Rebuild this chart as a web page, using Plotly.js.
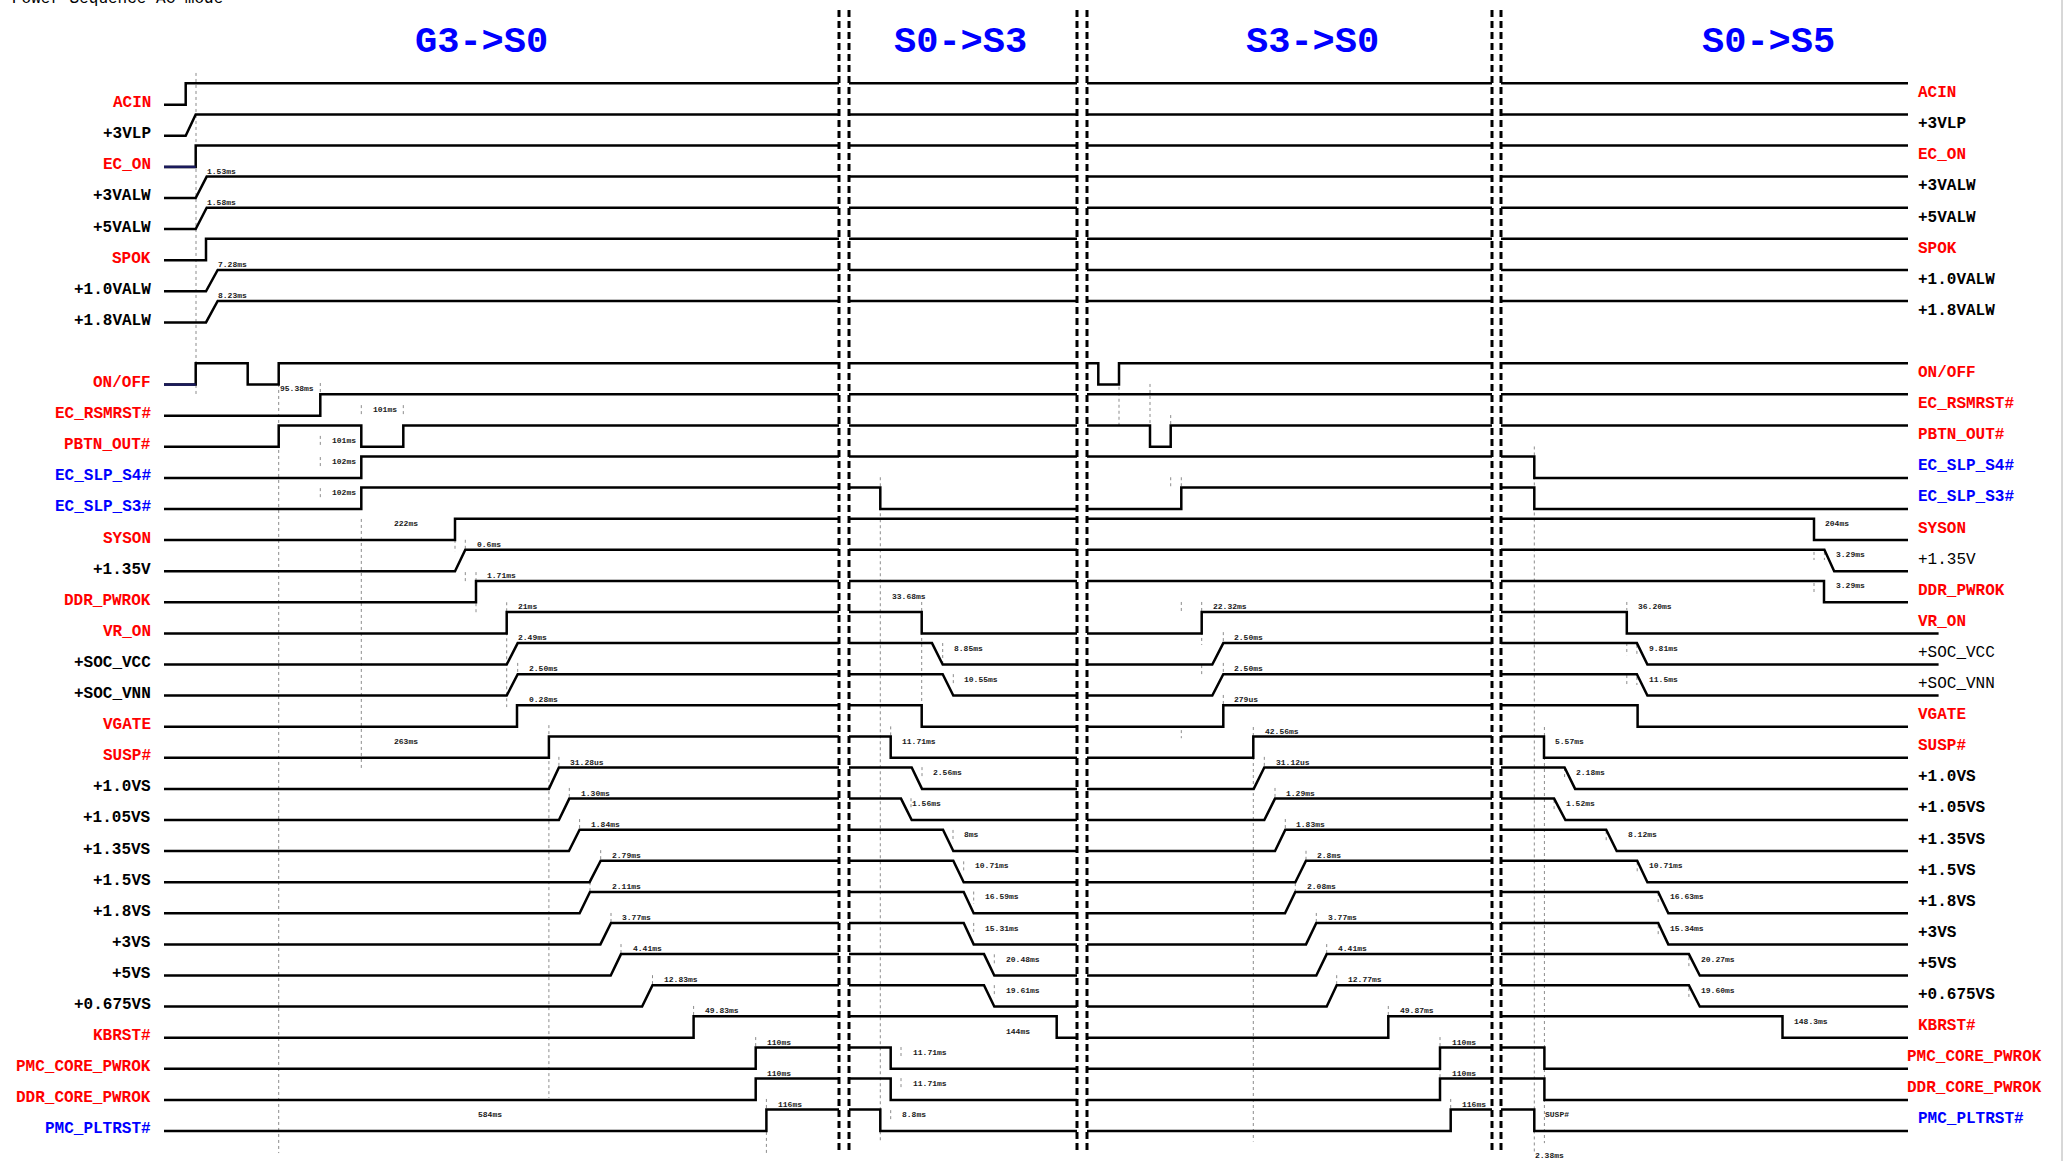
<!DOCTYPE html>
<html>
<head>
<meta charset="utf-8">
<script src="https://cdn.plot.ly/plotly-3.0.1.min.js"></script>
<style>
html,body{margin:0;padding:0;background:#fff;}
#chart{width:2067px;height:1161px;}
</style>
</head>
<body>
<div id="chart"></div>
<script>
// ---------------- DATA ----------------
const chartTitle = 'Power Sequence AC mode';
const phaseNames = ['G3->S0', 'S0->S3', 'S3->S0', 'S0->S5'];

// signal rows ('' = empty spacer row)
const signalNames = [
  'ACIN', '+3VLP', 'EC_ON', '+3VALW', '+5VALW', 'SPOK', '+1.0VALW', '+1.8VALW',
  '',
  'ON/OFF', 'EC_RSMRST#', 'PBTN_OUT#', 'EC_SLP_S4#', 'EC_SLP_S3#', 'SYSON', '+1.35V',
  'DDR_PWROK', 'VR_ON', '+SOC_VCC', '+SOC_VNN', 'VGATE', 'SUSP#',
  '+1.0VS', '+1.05VS', '+1.35VS', '+1.5VS', '+1.8VS', '+3VS', '+5VS', '+0.675VS',
  'KBRST#', 'PMC_CORE_PWROK', 'DDR_CORE_PWROK', 'PMC_PLTRST#'
];

// time span of every phase window (diagram time units)
const phaseSpans = [[164, 839], [849, 1077], [1087, 1492], [1501, 1908]];

// edges per signal per phase: number = step edge, [a,b] = ramp from a to b; every edge toggles the level
const edgesG3toS0 = [
  [185.7], [[185.7, 195.7]], [195.7], [[195.7, 206.7]], [[195.7, 206.7]], [206], [[206, 217.7]], [[206, 217.7]],
  null,
  [195.7, 247.7, 278.7], [320.3], [278.7, 361.3, 403.3], [361.3], [361.3], [455], [[455, 465.3]],
  [476], [506.7], [[506.7, 517.7]], [[506.7, 517.7]], [517], [548.9],
  [[548.9, 558.9]], [[558.9, 569.3]], [[568.9, 579.6]], [[589.6, 600.7]], [[579.6, 590]], [[600.4, 611]], [[610.7, 621]], [[642.1, 652.5]],
  [693.6], [755.7], [755.7], [766.4]
];
const edgesS0toS3 = [
  [], [], [], [], [], [], [], [],
  null,
  [], [], [], [], [880.3], [], [],
  [], [921.7], [[932, 942.7]], [[942.7, 953.3]], [921.7], [890.7],
  [[911.7, 922]], [[901, 911.7]], [[943, 953.3]], [[953.3, 963.7]], [[963.7, 973.7]], [[963.7, 973.7]], [[984, 994.3]], [[984, 994.3]],
  [1056.7], [890.7], [890.7], [880.3]
];
const edgesS3toS0 = [
  [], [], [], [], [], [], [], [],
  null,
  [1098.3, 1119], [], [1150, 1170.7], [], [1181.3], [], [],
  [], [1201.7], [[1212.3, 1223.3]], [[1212.3, 1223.3]], [1223.3], [1253.3],
  [[1253.7, 1264.3]], [[1264.3, 1275]], [[1275, 1285.3]], [[1295.3, 1306]], [[1285, 1295.3]], [[1306, 1316.3]], [[1316.3, 1326.7]], [[1326.7, 1336.7]],
  [1388.3], [1440], [1440], [1450.7]
];
const edgesS0toS5 = [
  [], [], [], [], [], [], [], [],
  null,
  [], [], [], [1534.3], [1534.3], [1814], [[1824.4, 1834.2]],
  [1824], [1626.8], [[1636.9, 1647.4]], [[1636.9, 1647.4]], [1637.6], [1544],
  [[1564.6, 1575.1]], [[1554.1, 1565.4]], [[1606.2, 1616.7]], [[1637.2, 1647.4]], [[1658.2, 1668.3]], [[1658.2, 1668.3]], [[1688.9, 1699.8]], [[1688.9, 1699.8]],
  [1782.5], [1544.4], [1544.4], [1534.3]
];

// delay annotations: [row, time, placement, text]
const delayLabels = [
  [3, 206, 'a', '1.53ms'], [4, 206, 'a', '1.58ms'], [6, 216.7, 'a', '7.28ms'], [7, 216.7, 'a', '8.23ms'],
  [10, 279, 'a', '95.38ms'], [11, 372, 'h', '101ms'], [11, 330.7, 'l', '101ms'],
  [12, 330.7, 'm', '102ms'], [13, 330.7, 'm', '102ms'], [14, 393.3, 'm', '222ms'],
  [15, 476, 'a', '0.6ms'], [16, 486, 'a', '1.71ms'], [17, 516.7, 'a', '21ms'],
  [18, 516.7, 'a', '2.49ms'], [19, 527.7, 'a', '2.50ms'], [20, 527.7, 'a', '0.28ms'],
  [21, 393.3, 'm', '263ms'], [22, 568.6, 'a', '31.28us'], [23, 579.6, 'a', '1.30ms'],
  [24, 589.6, 'a', '1.84ms'], [25, 610.7, 'a', '2.79ms'], [26, 610.7, 'a', '2.11ms'],
  [27, 621.4, 'a', '3.77ms'], [28, 631.8, 'a', '4.41ms'], [29, 662.5, 'a', '12.83ms'],
  [30, 704, 'a', '49.83ms'], [31, 766.4, 'a', '110ms'], [32, 766.4, 'a', '110ms'],
  [33, 776.8, 'a', '116ms'], [33, 476.8, 'm', '584ms'],

  [17, 891, 'h', '33.68ms'], [18, 952.7, 'm', '8.85ms'], [19, 963.3, 'm', '10.55ms'],
  [21, 901, 'm', '11.71ms'], [22, 932, 'm', '2.56ms'], [23, 911, 'm', '1.56ms'],
  [24, 963.3, 'm', '8ms'], [25, 973.7, 'm', '10.71ms'], [26, 984, 'm', '16.59ms'],
  [27, 984, 'm', '15.31ms'], [28, 1004.7, 'm', '20.48ms'], [29, 1004.7, 'm', '19.61ms'],
  [30, 1004.7, 'l', '144ms'], [31, 911.7, 'm', '11.71ms'], [32, 911.7, 'm', '11.71ms'],
  [33, 901, 'm', '8.8ms'],

  [17, 1212.3, 'a', '22.32ms'], [18, 1233, 'a', '2.50ms'], [19, 1233, 'a', '2.50ms'],
  [20, 1233, 'a', '279us'], [21, 1264.3, 'a', '42.56ms'], [22, 1274.7, 'a', '31.12us'],
  [23, 1284.7, 'a', '1.29ms'], [24, 1295.3, 'a', '1.83ms'], [25, 1315.7, 'a', '2.8ms'],
  [26, 1305.7, 'a', '2.08ms'], [27, 1326.7, 'a', '3.77ms'], [28, 1336.7, 'a', '4.41ms'],
  [29, 1347.3, 'a', '12.77ms'], [30, 1399, 'a', '49.87ms'], [31, 1450.7, 'a', '110ms'],
  [32, 1450.7, 'a', '110ms'], [33, 1461, 'a', '116ms'],

  [14, 1824, 'm', '204ms'], [15, 1834.5, 'm', '3.29ms'], [16, 1834.5, 'm', '3.29ms'],
  [17, 1637.2, 'a', '36.20ms'], [18, 1647.7, 'm', '9.81ms'], [19, 1647.7, 'm', '11.5ms'],
  [21, 1554.1, 'm', '5.57ms'], [22, 1575.1, 'm', '2.18ms'], [23, 1565.4, 'm', '1.52ms'],
  [24, 1627.1, 'm', '8.12ms'], [25, 1647.7, 'm', '10.71ms'], [26, 1668.7, 'm', '16.63ms'],
  [27, 1668.7, 'm', '15.34ms'], [28, 1699.8, 'm', '20.27ms'], [29, 1699.8, 'm', '19.60ms'],
  [30, 1793, 'm', '148.3ms'], [33, 1544.4, 'm', 'SUSP#'], [33, 1534.3, 'b', '2.38ms']
];

// dotted reference markers: [time, fromRow, toRow]
const guideMarks = [
  [196, -1.02, 9.34], [278.7, 8.98, 33.71], [320.3, 8.95, 9.37], [320.3, 10.65, 11.0],
  [320.3, 11.33, 11.68], [320.3, 12.33, 12.65], [361.3, 9.66, 10.01], [403.3, 9.66, 10.01],
  [361.3, 13.32, 21.33], [455, 13.99, 14.38], [465.3, 13.99, 14.38], [465.3, 15.03, 15.35],
  [476, 15.03, 15.35], [476, 16.03, 16.35], [506.7, 16.0, 19.37], [517.7, 17.95, 18.37],
  [548.9, 19.95, 31.94], [558.9, 20.97, 21.33], [569.3, 21.97, 22.33], [579.6, 22.97, 23.33],
  [600.7, 23.97, 24.31], [590, 25.0, 25.33], [611, 25.99, 26.31], [621, 26.99, 27.3],
  [652.5, 27.99, 28.33], [693.6, 28.98, 29.33], [755.7, 29.98, 30.33], [766.4, 31.97, 32.33],
  [766.4, 33.03, 33.71],

  [880.3, 11.98, 33.39], [921.7, 15.99, 19.99], [942.7, 17.31, 18.02], [953.3, 18.31, 18.69],
  [890.7, 19.99, 20.34], [922, 21.3, 21.68], [911, 22.3, 22.68], [953, 23.32, 23.71],
  [963.7, 24.33, 24.68], [973.7, 25.3, 25.7], [973.7, 26.31, 26.7], [994.3, 27.32, 27.7],
  [994.3, 28.31, 28.7], [901, 30.3, 30.68], [901, 31.3, 31.68], [890.7, 32.33, 32.68],

  [1119, 9.07, 10.3], [1150, 8.98, 10.3], [1170.7, 9.98, 10.33], [1170.7, 11.98, 12.33],
  [1181.3, 11.98, 12.33], [1181.3, 15.99, 16.31], [1201.7, 15.99, 17.37], [1201.7, 18.02, 18.34],
  [1223.3, 16.96, 17.28], [1223.3, 17.95, 18.28], [1223.3, 18.98, 19.3], [1181.3, 20.11, 20.37],
  [1253.3, 20.01, 33.34], [1264.3, 20.97, 21.3], [1275, 21.97, 22.29], [1285.3, 22.97, 23.32],
  [1306, 23.99, 24.29], [1295.3, 25.03, 25.35], [1316.3, 25.99, 26.31], [1326.7, 26.99, 27.28],
  [1336.7, 27.99, 28.31], [1388.3, 28.98, 29.3], [1440, 29.98, 30.33], [1440, 30.98, 31.33],
  [1450.7, 31.97, 32.33],

  [1534.3, 10.99, 33.71], [1544.4, 20.01, 33.39], [1814, 14.38, 14.64], [1814, 15.38, 15.7],
  [1824.4, 14.38, 14.64], [1626.8, 15.99, 16.25], [1626.8, 17.31, 17.7], [1626.8, 18.34, 18.66],
  [1636.9, 17.37, 17.7], [1636.9, 18.4, 18.66], [1564.6, 21.33, 21.65], [1554.1, 22.36, 22.68],
  [1606.2, 23.36, 23.65], [1637.2, 24.36, 24.68], [1658.2, 25.35, 25.67], [1658.2, 26.38, 26.7],
  [1688.9, 27.41, 27.73], [1688.9, 28.4, 28.72]
];

// ---------------- STYLE / LAYOUT ----------------
const FONT = '"Liberation Mono", "DejaVu Sans Mono", monospace';
const HIGH = 0.688;            // high level offset in rows
const redSet = new Set(['ACIN','EC_ON','SPOK','ON/OFF','EC_RSMRST#','PBTN_OUT#','SYSON','DDR_PWROK','VR_ON','VGATE','SUSP#','KBRST#','PMC_CORE_PWROK','DDR_CORE_PWROK']);
const blueSet = new Set(['EC_SLP_S4#','EC_SLP_S3#','PMC_PLTRST#']);
const colorOf = n => redSet.has(n) ? '#ff0000' : (blueSet.has(n) ? '#0000ff' : '#000000');
const rightRegular = new Set(['+1.35V', '+SOC_VCC', '+SOC_VNN']);
const extendedEnd = {'VR_ON': 1938.6, '+SOC_VCC': 1938.6, '+SOC_VNN': 1938.6};
const navyStart = new Set(['EC_ON', 'ON/OFF']);
const headerPos = [481, 960, 1312, 1768];
const placeOffset = {a: -26.7/31.1, m: -16.3/31.1, h: -37/31.1, l: -6.5/31.1, b: 25/31.1};

const allEdges = [edgesG3toS0, edgesS0toS3, edgesS3toS0, edgesS0toS5];

const wx = [], wy = [], nx = [], ny = [];
signalNames.forEach((name, r) => {
  if (!name) return;
  let level = 0;
  allEdges.forEach((phaseEdges, p) => {
    let [xs, xe] = phaseSpans[p];
    if (p === 3 && extendedEnd[name]) xe = extendedEnd[name];
    const yv = l => r - (l ? HIGH : 0);
    wx.push(xs); wy.push(yv(level));
    (phaseEdges[r] || []).forEach((e, k) => {
      const a = Array.isArray(e) ? e[0] : e;
      const b = Array.isArray(e) ? e[1] : e;
      if (p === 0 && k === 0 && navyStart.has(name)) {
        nx.push(xs, a, null); ny.push(yv(level), yv(level), null);
      }
      wx.push(a); wy.push(yv(level));
      level = 1 - level;
      wx.push(b); wy.push(yv(level));
    });
    wx.push(xe); wy.push(yv(level));
    wx.push(null); wy.push(null);
  });
});

const gx = [], gy = [];
guideMarks.forEach(([t, r0, r1]) => { gx.push(t, t, null); gy.push(r0, r1, null); });

const sx = [], sy = [];
for (let p = 0; p < phaseSpans.length - 1; p++) {
  [phaseSpans[p][1], phaseSpans[p + 1][0]].forEach(t => { sx.push(t, t, null); sy.push(-3.045, 33.68, null); });
}

const traces = [
  {x: gx, y: gy, mode: 'lines', line: {color: '#8c8c8c', width: 1, dash: 'dot'}, hoverinfo: 'skip'},
  {x: wx, y: wy, mode: 'lines', line: {color: '#000000', width: 2.5}, hoverinfo: 'skip'},
  {x: nx, y: ny, mode: 'lines', line: {color: '#1a1a5c', width: 2.5}, hoverinfo: 'skip'},
  {x: sx, y: sy, mode: 'lines', line: {color: '#000000', width: 3, dash: '7px,4px'}, hoverinfo: 'skip'}
];

const ann = [];
signalNames.forEach((name, r) => {
  if (!name) return;
  const c = colorOf(name);
  ann.push({x: 152, y: r - 0.05, xref: 'x', yref: 'y', text: '<b>' + name + '</b>', showarrow: false,
    xanchor: 'right', yanchor: 'middle', borderpad: 0, font: {family: FONT, size: 16, color: c}});
  const wide = (name === 'PMC_CORE_PWROK' || name === 'DDR_CORE_PWROK');
  ann.push({x: wide ? 1906 : 1917, y: r - 0.37, xref: 'x', yref: 'y',
    text: (rightRegular.has(name) ? name : '<b>' + name + '</b>'), showarrow: false,
    xanchor: 'left', yanchor: 'middle', borderpad: 0, font: {family: FONT, size: 16, color: c}});
});
delayLabels.forEach(([r, t, pl, txt]) => {
  ann.push({x: t, y: r + placeOffset[pl], xref: 'x', yref: 'y', text: '<b>' + txt + '</b>', showarrow: false,
    xanchor: 'left', yanchor: 'middle', borderpad: 0, font: {family: FONT, size: 8, color: '#1a1a1a'}});
});
phaseNames.forEach((t, i) => {
  ann.push({x: headerPos[i], y: -2.03, xref: 'x', yref: 'y', text: '<b>' + t + '</b>', showarrow: false,
    xanchor: 'center', yanchor: 'middle', font: {family: FONT, size: 37, color: '#0000ff'}});
});
ann.push({x: 10 / 2067, y: 1, xref: 'paper', yref: 'paper', text: chartTitle, showarrow: false,
  xanchor: 'left', yanchor: 'bottom', yshift: -10, font: {family: FONT, size: 16, color: '#000000'}});

const layout = {
  width: 2067, height: 1161,
  margin: {l: 0, r: 0, t: 0, b: 0, pad: 0},
  paper_bgcolor: '#ffffff', plot_bgcolor: '#ffffff',
  showlegend: false,
  xaxis: {range: [0, 2067], visible: false, fixedrange: true},
  yaxis: {range: [33.965, -3.366], visible: false, fixedrange: true},
  annotations: ann,
  shapes: [{type: 'line', xref: 'x', yref: 'paper', x0: 2062, x1: 2062, y0: 0, y1: 1, line: {color: '#b0b0b0', width: 1}}]
};

Plotly.newPlot('chart', traces, layout, {staticPlot: true, displayModeBar: false});
</script>
</body>
</html>
